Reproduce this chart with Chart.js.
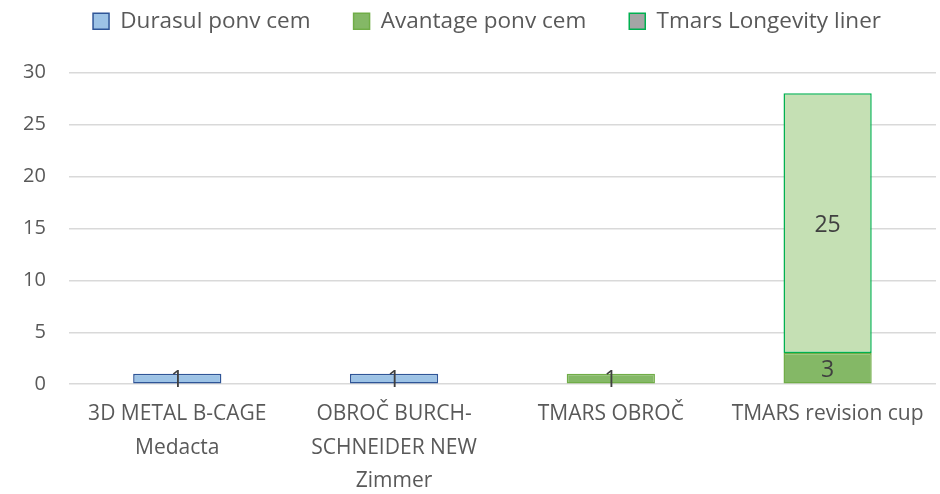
<!DOCTYPE html>
<html>
<head>
<meta charset="utf-8">
<script src="https://cdn.jsdelivr.net/npm/chart.js@4.4.0/dist/chart.umd.min.js"></script>
<style>
  html, body { margin: 0; padding: 0; background: #fff; }
  #wrap { width: 940px; height: 494px; }
</style>
</head>
<body>
<div id="wrap"><canvas id="implants"></canvas></div>
<script>
// categories and series
const categories = [
  ["3D METAL B-CAGE", "Medacta"],
  ["OBROČ BURCH-", "SCHNEIDER NEW", "Zimmer"],
  "TMARS OBROČ",
  "TMARS revision cup"
];
const durasul = [1, 1, 0, 0];
const avantage = [0, 0, 1, 3];
const tmarsLongevity = [0, 0, 0, 25];
const yTicks = [0, 5, 10, 15, 20, 25, 30];

Chart.defaults.font.family = "'Open Sans', 'Noto Sans', sans-serif";
Chart.defaults.color = "#595959";

// draw the numbers in the middle of each bar segment
const barLabels = {
  id: "barLabels",
  afterDatasetsDraw(chart) {
    const ctx = chart.ctx;
    ctx.save();
    ctx.font = "23px 'Open Sans', sans-serif";
    ctx.fillStyle = "#404040";
    ctx.textAlign = "center";
    ctx.textBaseline = "middle";
    chart.data.datasets.forEach((ds, i) => {
      const meta = chart.getDatasetMeta(i);
      meta.data.forEach((bar, j) => {
        const v = ds.data[j];
        if (!v) return;
        const mid = (bar.y + bar.base) / 2;
        ctx.fillText(String(v), bar.x, mid + 2);
      });
    });
    ctx.restore();
  }
};

// move the legend up and a bit right, like the original
const legendShift = {
  id: "legendShift",
  afterLayout(chart) {
    const lg = chart.legend;
    lg.top -= 30;
    lg.bottom -= 30;
    lg.left += 19;
    lg.right += 19;
  }
};

const implants = document.getElementById("implants").getContext("2d");

let implantsChart = new Chart(implants, {
  type: "bar",
  data: {
    labels: categories,
    datasets: [
      {
        label: "Durasul ponv cem",
        data: durasul,
        backgroundColor: "#9dc3e6",
        borderColor: "#2f5597",
        borderWidth: 1.5,
        borderSkipped: false
      },
      {
        label: "Avantage ponv cem",
        data: avantage,
        backgroundColor: "#84b866",
        borderColor: "#70ad47",
        borderWidth: 1.5,
        borderSkipped: false
      },
      {
        label: "Tmars Longevity liner",
        data: tmarsLongevity,
        backgroundColor: "#c5e0b4",
        borderColor: "#00b050",
        borderWidth: 1.5,
        borderSkipped: false
      }
    ]
  },
  options: {
    responsive: true,
    maintainAspectRatio: false,
    animation: false,
    layout: {
      padding: { left: 0, right: 4, top: -3, bottom: -9 }
    },
    datasets: {
      bar: {
        barPercentage: 0.407,
        categoryPercentage: 1
      }
    },
    plugins: {
      tooltip: { enabled: false },
      legend: {
        position: "top",
        labels: {
          boxWidth: 16,
          boxHeight: 16,
          padding: 43,
          font: { size: 22.5 },
          color: "#595959",
          generateLabels: (chart) => {
            const items = Chart.defaults.plugins.legend.labels.generateLabels(chart);
            // legend swatch of the last series is grey in the original
            items[2].fillStyle = "#a5a5a5";
            return items;
          }
        }
      }
    },
    scales: {
      x: {
        stacked: true,
        grid: { display: false },
        border: { display: false },
        ticks: {
          color: "#595959",
          font: { size: 21, lineHeight: 1.6 },
          maxRotation: 0,
          autoSkip: false,
          padding: 5
        }
      },
      y: {
        stacked: true,
        min: 0,
        max: 30,
        afterBuildTicks: (axis) => {
          axis.ticks = yTicks.map((v) => ({ value: v }));
        },
        grid: { color: "#d9d9d9", lineWidth: 1.5, drawTicks: false },
        border: { display: false },
        ticks: {
          color: "#595959",
          font: { size: 20 },
          padding: 23
        }
      }
    }
  },
  plugins: [barLabels, legendShift]
});
</script>
</body>
</html>
